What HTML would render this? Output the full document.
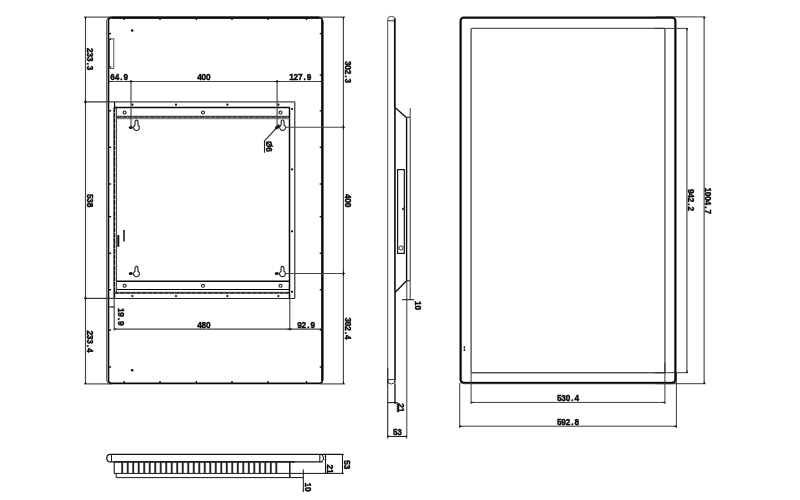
<!DOCTYPE html>
<html><head><meta charset="utf-8"><title>Dimension drawing</title>
<style>
html,body{margin:0;padding:0;background:#fff;}
body{width:800px;height:500px;overflow:hidden;}
svg{display:block;}
svg text{font-family:"Liberation Sans",sans-serif;font-weight:bold;fill:#050505;stroke:#050505;stroke-width:0.45px;}
</style></head>
<body>
<svg width="800" height="500" viewBox="0 0 800 500">
<rect x="0" y="0" width="800" height="500" fill="#fff"/>
<g id="drawing" style="filter:blur(0.45px)">
<path d="M111.5,384.0 Q106.7,384.0 106.7,379.9 V21.1 Q106.7,16.900000000000002 111.5,16.900000000000002 H319.3" fill="none" stroke="#4a4a4a" stroke-width="1.0" />
<path d="M323.40000000000003,20.6 V380.4" fill="none" stroke="#7a7a7a" stroke-width="0.9" />
<rect x="108.5" y="17.6" width="213.8" height="365.79999999999995" rx="2.8" fill="none" stroke="#080808" stroke-width="1.6"/>
<path d="M322.2,20.6 V380.4" fill="none" stroke="#080808" stroke-width="1.9" />
<path d="M111.5,17.700000000000003 H319.8" fill="none" stroke="#080808" stroke-width="2.0" />
<line x1="124.2" y1="17.6" x2="124.2" y2="20.0" stroke="#0a0a0a" stroke-width="1.35" />
<line x1="124.2" y1="381.0" x2="124.2" y2="383.4" stroke="#0a0a0a" stroke-width="1.35" />
<line x1="160" y1="17.6" x2="160" y2="20.0" stroke="#0a0a0a" stroke-width="1.35" />
<line x1="160" y1="381.0" x2="160" y2="383.4" stroke="#0a0a0a" stroke-width="1.35" />
<line x1="196.4" y1="17.6" x2="196.4" y2="20.0" stroke="#0a0a0a" stroke-width="1.35" />
<line x1="196.4" y1="381.0" x2="196.4" y2="383.4" stroke="#0a0a0a" stroke-width="1.35" />
<line x1="232" y1="17.6" x2="232" y2="20.0" stroke="#0a0a0a" stroke-width="1.35" />
<line x1="232" y1="381.0" x2="232" y2="383.4" stroke="#0a0a0a" stroke-width="1.35" />
<line x1="268" y1="17.6" x2="268" y2="20.0" stroke="#0a0a0a" stroke-width="1.35" />
<line x1="268" y1="381.0" x2="268" y2="383.4" stroke="#0a0a0a" stroke-width="1.35" />
<line x1="306.5" y1="17.6" x2="306.5" y2="20.0" stroke="#0a0a0a" stroke-width="1.35" />
<line x1="306.5" y1="381.0" x2="306.5" y2="383.4" stroke="#0a0a0a" stroke-width="1.35" />
<line x1="108.5" y1="33.6" x2="111.1" y2="33.6" stroke="#0a0a0a" stroke-width="1.35" />
<line x1="108.5" y1="39.3" x2="111.1" y2="39.3" stroke="#0a0a0a" stroke-width="1.35" />
<line x1="108.5" y1="67" x2="111.1" y2="67" stroke="#0a0a0a" stroke-width="1.35" />
<line x1="108.5" y1="110.8" x2="111.1" y2="110.8" stroke="#0a0a0a" stroke-width="1.35" />
<line x1="108.5" y1="147.3" x2="111.1" y2="147.3" stroke="#0a0a0a" stroke-width="1.35" />
<line x1="108.5" y1="184" x2="111.1" y2="184" stroke="#0a0a0a" stroke-width="1.35" />
<line x1="108.5" y1="216.6" x2="111.1" y2="216.6" stroke="#0a0a0a" stroke-width="1.35" />
<line x1="108.5" y1="253.3" x2="111.1" y2="253.3" stroke="#0a0a0a" stroke-width="1.35" />
<line x1="108.5" y1="289.7" x2="111.1" y2="289.7" stroke="#0a0a0a" stroke-width="1.35" />
<line x1="108.5" y1="330" x2="111.1" y2="330" stroke="#0a0a0a" stroke-width="1.35" />
<line x1="108.5" y1="367" x2="111.1" y2="367" stroke="#0a0a0a" stroke-width="1.35" />
<line x1="319.7" y1="33.6" x2="322.3" y2="33.6" stroke="#0a0a0a" stroke-width="1.35" />
<line x1="319.7" y1="75" x2="322.3" y2="75" stroke="#0a0a0a" stroke-width="1.35" />
<line x1="319.7" y1="110.8" x2="322.3" y2="110.8" stroke="#0a0a0a" stroke-width="1.35" />
<line x1="319.7" y1="147.3" x2="322.3" y2="147.3" stroke="#0a0a0a" stroke-width="1.35" />
<line x1="319.7" y1="184" x2="322.3" y2="184" stroke="#0a0a0a" stroke-width="1.35" />
<line x1="319.7" y1="216.6" x2="322.3" y2="216.6" stroke="#0a0a0a" stroke-width="1.35" />
<line x1="319.7" y1="253.3" x2="322.3" y2="253.3" stroke="#0a0a0a" stroke-width="1.35" />
<line x1="319.7" y1="289.7" x2="322.3" y2="289.7" stroke="#0a0a0a" stroke-width="1.35" />
<line x1="319.7" y1="330" x2="322.3" y2="330" stroke="#0a0a0a" stroke-width="1.35" />
<line x1="319.7" y1="367" x2="322.3" y2="367" stroke="#0a0a0a" stroke-width="1.35" />
<circle cx="132.2" cy="30.5" r="1.25" fill="#0a0a0a"/>
<circle cx="132.2" cy="370.2" r="1.25" fill="#0a0a0a"/>
<rect x="109.4" y="38.8" width="4.4" height="29.6" rx="0" fill="none" stroke="#4a4a4a" stroke-width="0.95"/>
<line x1="114.3" y1="101.9" x2="294.8" y2="101.9" stroke="#454545" stroke-width="1.1" />
<line x1="294.8" y1="101.9" x2="294.8" y2="298.5" stroke="#202020" stroke-width="1.1" />
<line x1="114.3" y1="298.5" x2="294.8" y2="298.5" stroke="#202020" stroke-width="1.15" />
<line x1="113.6" y1="107.4" x2="113.6" y2="298.5" stroke="#5a5a5a" stroke-width="0.9" />
<line x1="114.6" y1="101.9" x2="114.6" y2="298.5" stroke="#080808" stroke-width="1.2" stroke-dasharray="5 0.45"/>
<line x1="116.5" y1="107.4" x2="116.5" y2="292.4" stroke="#4a4a4a" stroke-width="1.1" />
<line x1="114.3" y1="107.4" x2="289.5" y2="107.4" stroke="#080808" stroke-width="1.5" />
<line x1="116.5" y1="281.2" x2="289.5" y2="281.2" stroke="#080808" stroke-width="1.45" />
<line x1="289.5" y1="107.4" x2="289.5" y2="298.5" stroke="#080808" stroke-width="1.5" />
<line x1="116.9" y1="116.3" x2="289.5" y2="116.3" stroke="#2a2a2a" stroke-width="1.0" />
<line x1="116.9" y1="117.3" x2="289.5" y2="117.3" stroke="#080808" stroke-width="1.0" stroke-dasharray="5 0.5"/>
<line x1="116.9" y1="118.5" x2="289.5" y2="118.5" stroke="#858585" stroke-width="1.5" />
<line x1="116.9" y1="289.5" x2="289.5" y2="289.5" stroke="#080808" stroke-width="1.15" />
<line x1="114.3" y1="292.3" x2="289.5" y2="292.3" stroke="#333" stroke-width="0.9" />
<line x1="114.3" y1="293.1" x2="289.5" y2="293.1" stroke="#080808" stroke-width="1.2" stroke-dasharray="5 0.5"/>
<circle cx="124.6" cy="112.5" r="1.5" fill="none" stroke="#202020" stroke-width="1.15"/>
<circle cx="124.6" cy="285.7" r="1.5" fill="none" stroke="#202020" stroke-width="1.15"/>
<circle cx="203" cy="112.5" r="1.5" fill="none" stroke="#202020" stroke-width="1.15"/>
<circle cx="203" cy="285.7" r="1.5" fill="none" stroke="#202020" stroke-width="1.15"/>
<circle cx="280.5" cy="112.5" r="1.5" fill="none" stroke="#202020" stroke-width="1.15"/>
<circle cx="280.5" cy="285.7" r="1.5" fill="none" stroke="#202020" stroke-width="1.15"/>
<circle cx="132.4" cy="104.7" r="1.1" fill="#0a0a0a"/>
<circle cx="132.4" cy="296.1" r="1.1" fill="#0a0a0a"/>
<circle cx="176" cy="104.7" r="1.1" fill="#0a0a0a"/>
<circle cx="176" cy="296.1" r="1.1" fill="#0a0a0a"/>
<circle cx="227.4" cy="104.7" r="1.1" fill="#0a0a0a"/>
<circle cx="227.4" cy="296.1" r="1.1" fill="#0a0a0a"/>
<circle cx="278.4" cy="104.7" r="1.1" fill="#0a0a0a"/>
<circle cx="278.4" cy="296.1" r="1.1" fill="#0a0a0a"/>
<circle cx="292.1" cy="109" r="1.1" fill="#0a0a0a"/>
<circle cx="292.1" cy="169.4" r="1.1" fill="#0a0a0a"/>
<circle cx="292.1" cy="231.3" r="1.1" fill="#0a0a0a"/>
<circle cx="292.1" cy="291.8" r="1.1" fill="#0a0a0a"/>
<line x1="118.3" y1="235" x2="118.3" y2="246.8" stroke="#111" stroke-width="2.0" />
<line x1="124" y1="230" x2="124" y2="241.5" stroke="#080808" stroke-width="1.45" />
<path d="M135.05,125.0 V121.6 A1.45,1.45 0 0 1 137.95,121.6 V125.0 A2.95,2.95 0 1 1 135.05,125.0 Z" fill="#fff" stroke="#202020" stroke-width="1.1" />
<ellipse cx="130.8" cy="127.4" rx="2.0" ry="1.5" fill="#080808"/>
<path d="M281.15000000000003,124.9 V121.5 A1.45,1.45 0 0 1 284.05,121.5 V124.9 A2.95,2.95 0 1 1 281.15000000000003,124.9 Z" fill="#fff" stroke="#202020" stroke-width="1.1" />
<ellipse cx="277.40000000000003" cy="127.0" rx="3.0" ry="1.6" fill="#080808" transform="rotate(-40 277.40000000000003 127.0)"/>
<path d="M135.05,271.2 V267.8 A1.45,1.45 0 0 1 137.95,267.8 V271.2 A2.95,2.95 0 1 1 135.05,271.2 Z" fill="#fff" stroke="#202020" stroke-width="1.1" />
<ellipse cx="130.8" cy="273.59999999999997" rx="2.0" ry="1.5" fill="#080808"/>
<path d="M281.05,271.2 V267.8 A1.45,1.45 0 0 1 283.95,267.8 V271.2 A2.95,2.95 0 1 1 281.05,271.2 Z" fill="#fff" stroke="#202020" stroke-width="1.1" />
<ellipse cx="276.8" cy="273.59999999999997" rx="2.0" ry="1.5" fill="#080808"/>
<line x1="85.5" y1="17.0" x2="85.5" y2="384.0" stroke="#454545" stroke-width="1.15" />
<line x1="84" y1="17.1" x2="110.5" y2="17.1" stroke="#454545" stroke-width="1.15" />
<line x1="84" y1="383.9" x2="110.5" y2="383.9" stroke="#454545" stroke-width="1.15" />
<line x1="84" y1="101.9" x2="114.3" y2="101.9" stroke="#363636" stroke-width="1.25" />
<line x1="84" y1="298.4" x2="114.3" y2="298.4" stroke="#363636" stroke-width="1.25" />
<path d="M84.55,17.1 L85.5,20.0 L86.45,17.1 z" fill="#111" stroke="#151515" stroke-width="0" />
<path d="M84.55,102 L85.5,99.1 L86.45,102 z" fill="#111" stroke="#151515" stroke-width="0" />
<path d="M84.55,102 L85.5,104.9 L86.45,102 z" fill="#111" stroke="#151515" stroke-width="0" />
<path d="M84.55,298.3 L85.5,295.40000000000003 L86.45,298.3 z" fill="#111" stroke="#151515" stroke-width="0" />
<path d="M84.55,298.3 L85.5,301.2 L86.45,298.3 z" fill="#111" stroke="#151515" stroke-width="0" />
<path d="M84.55,383.9 L85.5,381.0 L86.45,383.9 z" fill="#111" stroke="#151515" stroke-width="0" />
<g transform="translate(86.6,48.2) rotate(90) scale(0.84,1)"><text x="2.62 7.86 13.10 18.33 23.57" y="0" text-anchor="middle" font-size="9.8">233.3</text></g>
<g transform="translate(86.6,194) rotate(90) scale(0.84,1)"><text x="2.62 7.86 13.10" y="0" text-anchor="middle" font-size="9.8">538</text></g>
<g transform="translate(86.6,330.5) rotate(90) scale(0.84,1)"><text x="2.62 7.86 13.10 18.33 23.57" y="0" text-anchor="middle" font-size="9.8">233.4</text></g>
<line x1="343.4" y1="17.0" x2="343.4" y2="384.0" stroke="#454545" stroke-width="1.15" />
<line x1="320.3" y1="17.1" x2="345" y2="17.1" stroke="#454545" stroke-width="1.15" />
<line x1="320.3" y1="383.9" x2="345" y2="383.9" stroke="#454545" stroke-width="1.15" />
<line x1="285.5" y1="127.2" x2="345" y2="127.2" stroke="#454545" stroke-width="1.15" />
<line x1="285.5" y1="273.5" x2="345" y2="273.5" stroke="#454545" stroke-width="1.15" />
<path d="M342.45,17.1 L343.4,20.0 L344.34999999999997,17.1 z" fill="#111" stroke="#151515" stroke-width="0" />
<path d="M342.45,127.2 L343.4,124.3 L344.34999999999997,127.2 z" fill="#111" stroke="#151515" stroke-width="0" />
<path d="M342.45,127.2 L343.4,130.1 L344.34999999999997,127.2 z" fill="#111" stroke="#151515" stroke-width="0" />
<path d="M342.45,273.5 L343.4,270.6 L344.34999999999997,273.5 z" fill="#111" stroke="#151515" stroke-width="0" />
<path d="M342.45,273.5 L343.4,276.4 L344.34999999999997,273.5 z" fill="#111" stroke="#151515" stroke-width="0" />
<path d="M342.45,383.9 L343.4,381.0 L344.34999999999997,383.9 z" fill="#111" stroke="#151515" stroke-width="0" />
<g transform="translate(344.6,61) rotate(90) scale(0.84,1)"><text x="2.62 7.86 13.10 18.33 23.57" y="0" text-anchor="middle" font-size="9.8">302.3</text></g>
<g transform="translate(344.6,194) rotate(90) scale(0.84,1)"><text x="2.62 7.86 13.10" y="0" text-anchor="middle" font-size="9.8">400</text></g>
<g transform="translate(344.6,317.5) rotate(90) scale(0.84,1)"><text x="2.62 7.86 13.10 18.33 23.57" y="0" text-anchor="middle" font-size="9.8">302.4</text></g>
<line x1="108.5" y1="81.45" x2="322.3" y2="81.45" stroke="#454545" stroke-width="1.15" />
<line x1="131" y1="80" x2="131" y2="127.5" stroke="#454545" stroke-width="1.15" />
<line x1="277.1" y1="80" x2="277.1" y2="127.5" stroke="#454545" stroke-width="1.15" />
<path d="M108.5,80.5 L111.4,81.45 L108.5,82.4 z" fill="#111" stroke="#151515" stroke-width="0" />
<path d="M131,80.5 L128.1,81.45 L131,82.4 z" fill="#111" stroke="#151515" stroke-width="0" />
<path d="M131,80.5 L133.9,81.45 L131,82.4 z" fill="#111" stroke="#151515" stroke-width="0" />
<path d="M277.1,80.5 L274.20000000000005,81.45 L277.1,82.4 z" fill="#111" stroke="#151515" stroke-width="0" />
<path d="M277.1,80.5 L280.0,81.45 L277.1,82.4 z" fill="#111" stroke="#151515" stroke-width="0" />
<path d="M322.3,80.5 L319.40000000000003,81.45 L322.3,82.4 z" fill="#111" stroke="#151515" stroke-width="0" />
<g transform="translate(110.4,80.2) rotate(0) scale(0.84,1)"><text x="2.62 7.86 13.10 18.33" y="0" text-anchor="middle" font-size="9.8">64.9</text></g>
<g transform="translate(197.3,80.2) rotate(0) scale(0.84,1)"><text x="2.62 7.86 13.10" y="0" text-anchor="middle" font-size="9.8">400</text></g>
<g transform="translate(289.3,80.2) rotate(0) scale(0.84,1)"><text x="2.62 7.86 13.10 18.33 23.57" y="0" text-anchor="middle" font-size="9.8">127.9</text></g>
<line x1="114.2" y1="329.1" x2="322.3" y2="329.1" stroke="#454545" stroke-width="1.15" />
<line x1="114.2" y1="298.5" x2="114.2" y2="330.5" stroke="#454545" stroke-width="1.15" />
<line x1="107.5" y1="307" x2="114.6" y2="307" stroke="#222" stroke-width="1.2" />
<line x1="289.8" y1="298.5" x2="289.8" y2="330.5" stroke="#454545" stroke-width="1.15" />
<path d="M114.2,328.15000000000003 L117.10000000000001,329.1 L114.2,330.05 z" fill="#111" stroke="#151515" stroke-width="0" />
<path d="M289.8,328.15000000000003 L286.90000000000003,329.1 L289.8,330.05 z" fill="#111" stroke="#151515" stroke-width="0" />
<path d="M289.8,328.15000000000003 L292.7,329.1 L289.8,330.05 z" fill="#111" stroke="#151515" stroke-width="0" />
<path d="M322.3,328.15000000000003 L319.40000000000003,329.1 L322.3,330.05 z" fill="#111" stroke="#151515" stroke-width="0" />
<g transform="translate(118.2,308) rotate(90) scale(0.84,1)"><text x="2.62 7.86 13.10 18.33" y="0" text-anchor="middle" font-size="9.8">19.9</text></g>
<g transform="translate(197.3,327.9) rotate(0) scale(0.84,1)"><text x="2.62 7.86 13.10" y="0" text-anchor="middle" font-size="9.8">480</text></g>
<g transform="translate(297.3,327.9) rotate(0) scale(0.84,1)"><text x="2.62 7.86 13.10 18.33" y="0" text-anchor="middle" font-size="9.8">92.9</text></g>
<path d="M276.5,127.8 L264.5,141 V152.8" fill="none" stroke="#202020" stroke-width="1.1" />
<g transform="translate(265.7,141.6) rotate(90) scale(0.84,1)"><text x="3.15 9.46" y="0" text-anchor="middle" font-size="9.8">Ø6</text></g>
<path d="M387.7,384 V19 Q387.7,16.4 391.3,16.4 Q395.0,16.4 395.0,19" fill="none" stroke="#505050" stroke-width="1.0" />
<line x1="387.7" y1="20.8" x2="395.0" y2="20.8" stroke="#2a2a2a" stroke-width="0.95" />
<line x1="395.0" y1="18.5" x2="395.0" y2="404" stroke="#333" stroke-width="0.95" />
<line x1="394.7" y1="18.5" x2="394.7" y2="107.5" stroke="#0a0a0a" stroke-width="1.55" />
<line x1="394.9" y1="107.5" x2="394.9" y2="292.5" stroke="#0a0a0a" stroke-width="1.35" />
<path d="M395.0,107.5 L406.4,117.5" fill="none" stroke="#0a0a0a" stroke-width="1.3" />
<line x1="406.6" y1="117.5" x2="406.6" y2="281" stroke="#0a0a0a" stroke-width="1.35" />
<line x1="406.4" y1="117.3" x2="410.2" y2="117.3" stroke="#1c1c1c" stroke-width="1.05" />
<line x1="410.2" y1="108" x2="410.2" y2="299.8" stroke="#333" stroke-width="0.95" />
<line x1="406.4" y1="280.8" x2="410.2" y2="280.8" stroke="#1c1c1c" stroke-width="1.05" />
<path d="M406.4,281 L395.0,292.5" fill="none" stroke="#0a0a0a" stroke-width="1.3" />
<line x1="395.0" y1="292.5" x2="395.0" y2="380" stroke="#111" stroke-width="1.3" />
<rect x="397.6" y="169.6" width="6.7" height="83.8" rx="0" fill="none" stroke="#0d0d0d" stroke-width="1.15"/>
<circle cx="401" cy="248" r="2.1" fill="none" stroke="#151515" stroke-width="0.9"/>
<path d="M404.6,207.6 l-2.6,1.4 l2.6,1.4" fill="none" stroke="#151515" stroke-width="0.95" />
<line x1="387.7" y1="379.6" x2="395.0" y2="379.6" stroke="#2a2a2a" stroke-width="0.95" />
<path d="M387.7,380 Q387.7,384 391.3,384 Q395.0,384 395.0,380" fill="none" stroke="#2a2a2a" stroke-width="0.95" />
<line x1="387.7" y1="368" x2="387.7" y2="438.5" stroke="#2a2a2a" stroke-width="1.1" />
<line x1="395.0" y1="384" x2="395.0" y2="404" stroke="#2a2a2a" stroke-width="1.05" />
<line x1="406.8" y1="281" x2="406.8" y2="438.5" stroke="#333" stroke-width="0.95" />
<line x1="402" y1="299.7" x2="414.2" y2="299.7" stroke="#151515" stroke-width="1.05" />
<g transform="translate(415.4,301.2) rotate(90) scale(0.84,1)"><text x="2.62 7.86" y="0" text-anchor="middle" font-size="9.8">10</text></g>
<line x1="387.7" y1="402.6" x2="397.3" y2="402.6" stroke="#151515" stroke-width="1.05" />
<line x1="397.3" y1="402.6" x2="397.3" y2="412" stroke="#151515" stroke-width="1.05" />
<g transform="translate(398.3,403.4) rotate(90) scale(0.84,1)"><text x="2.62 7.86" y="0" text-anchor="middle" font-size="9.8">21</text></g>
<line x1="387.7" y1="436.4" x2="406.8" y2="436.4" stroke="#151515" stroke-width="1.05" />
<path d="M387.7,435.45 L390.59999999999997,436.4 L387.7,437.34999999999997 z" fill="#111" stroke="#151515" stroke-width="0" />
<path d="M406.8,435.45 L403.90000000000003,436.4 L406.8,437.34999999999997 z" fill="#111" stroke="#151515" stroke-width="0" />
<g transform="translate(393,435.3) rotate(0) scale(0.84,1)"><text x="2.62 7.86" y="0" text-anchor="middle" font-size="9.8">53</text></g>
<rect x="471.1" y="28.4" width="193.79999999999995" height="344.3" rx="0.8" fill="none" stroke="#555" stroke-width="1.4"/>
<rect x="460.5" y="17.6" width="214.99999999999994" height="365.4" rx="3.4" fill="none" stroke="#6a6a6a" stroke-width="2.5"/>
<rect x="460.70000000000005" y="17.8" width="214.59999999999997" height="364.9" rx="3.1" fill="none" stroke="#060606" stroke-width="1.5"/>
<circle cx="464.4" cy="347.2" r="0.85" fill="#0a0a0a"/>
<circle cx="464.4" cy="350.2" r="0.85" fill="#0a0a0a"/>
<line x1="464.4" y1="347.2" x2="464.4" y2="350.2" stroke="#222" stroke-width="0.6" />
<line x1="655.4" y1="16.9" x2="705.8" y2="16.9" stroke="#2e2e2e" stroke-width="0.95" />
<line x1="655.4" y1="383.7" x2="705.8" y2="383.7" stroke="#2e2e2e" stroke-width="0.95" />
<line x1="704.15" y1="16.9" x2="704.15" y2="383.7" stroke="#505050" stroke-width="1.2" />
<line x1="654.9" y1="28.4" x2="688" y2="28.4" stroke="#2e2e2e" stroke-width="0.95" />
<line x1="654.9" y1="372.7" x2="688" y2="372.7" stroke="#2e2e2e" stroke-width="0.95" />
<line x1="686.9" y1="28.4" x2="686.9" y2="372.7" stroke="#505050" stroke-width="1.2" />
<path d="M703.1999999999999,16.9 L704.15,19.799999999999997 L705.1,16.9 z" fill="#111" stroke="#151515" stroke-width="0" />
<path d="M703.1999999999999,383.7 L704.15,380.8 L705.1,383.7 z" fill="#111" stroke="#151515" stroke-width="0" />
<path d="M686.05,28.4 L687,31.299999999999997 L687.95,28.4 z" fill="#111" stroke="#151515" stroke-width="0" />
<path d="M686.05,372.7 L687,369.8 L687.95,372.7 z" fill="#111" stroke="#151515" stroke-width="0" />
<g transform="translate(688.2,189) rotate(90) scale(0.84,1)"><text x="2.62 7.86 13.10 18.33 23.57" y="0" text-anchor="middle" font-size="9.8">942.2</text></g>
<g transform="translate(705.4,187.5) rotate(90) scale(0.84,1)"><text x="2.62 7.86 13.10 18.33 23.57 28.81" y="0" text-anchor="middle" font-size="9.8">1004.7</text></g>
<line x1="471.1" y1="372.7" x2="471.1" y2="404" stroke="#333" stroke-width="0.95" />
<line x1="664.9" y1="362.7" x2="664.9" y2="404" stroke="#333" stroke-width="0.95" />
<line x1="459.70000000000005" y1="382.9" x2="459.70000000000005" y2="428" stroke="#333" stroke-width="0.95" />
<line x1="676.4" y1="372.9" x2="676.4" y2="428" stroke="#333" stroke-width="0.95" />
<line x1="471.1" y1="402.4" x2="664.9" y2="402.4" stroke="#2e2e2e" stroke-width="0.95" />
<line x1="459.70000000000005" y1="426.2" x2="676.4" y2="426.2" stroke="#2e2e2e" stroke-width="0.95" />
<path d="M471.1,401.45 L474.0,402.4 L471.1,403.34999999999997 z" fill="#111" stroke="#151515" stroke-width="0" />
<path d="M664.9,401.45 L662.0,402.4 L664.9,403.34999999999997 z" fill="#111" stroke="#151515" stroke-width="0" />
<path d="M459.70000000000005,425.25 L462.6,426.2 L459.70000000000005,427.15 z" fill="#111" stroke="#151515" stroke-width="0" />
<path d="M676.4,425.25 L673.5,426.2 L676.4,427.15 z" fill="#111" stroke="#151515" stroke-width="0" />
<g transform="translate(557,401.1) rotate(0) scale(0.84,1)"><text x="2.62 7.86 13.10 18.33 23.57" y="0" text-anchor="middle" font-size="9.8">530.4</text></g>
<g transform="translate(557,424.9) rotate(0) scale(0.84,1)"><text x="2.62 7.86 13.10 18.33 23.57" y="0" text-anchor="middle" font-size="9.8">592.8</text></g>
<path d="M343.7,454.4 H110.5 Q106.8,454.4 106.8,458.15 Q106.8,461.9 110.5,461.9 H322.5" fill="none" stroke="#151515" stroke-width="1.25" />
<line x1="111.5" y1="454.4" x2="111.5" y2="461.9" stroke="#1c1c1c" stroke-width="1.05" />
<line x1="319.8" y1="454.4" x2="319.8" y2="461.9" stroke="#1c1c1c" stroke-width="1.05" />
<path d="M321.5,454.4 Q325.6,458.15 321.5,461.9" fill="none" stroke="#1c1c1c" stroke-width="1.05" />
<line x1="114.2" y1="461.9" x2="114.2" y2="473.4" stroke="#151515" stroke-width="1.1" />
<line x1="114.2" y1="473.4" x2="343.7" y2="473.4" stroke="#151515" stroke-width="1.0" />
<line x1="289.8" y1="461.9" x2="289.8" y2="477.6" stroke="#080808" stroke-width="1.4" />
<line x1="114.2" y1="461.9" x2="295" y2="461.9" stroke="#111" stroke-width="1.2" />
<line x1="122.2" y1="461.9" x2="122.2" y2="473.4" stroke="#262626" stroke-width="1.9" />
<line x1="127.70400000000001" y1="461.9" x2="127.70400000000001" y2="473.4" stroke="#262626" stroke-width="1.9" />
<line x1="133.208" y1="461.9" x2="133.208" y2="473.4" stroke="#262626" stroke-width="1.9" />
<line x1="138.712" y1="461.9" x2="138.712" y2="473.4" stroke="#262626" stroke-width="1.9" />
<line x1="144.216" y1="461.9" x2="144.216" y2="473.4" stroke="#262626" stroke-width="1.9" />
<line x1="149.72" y1="461.9" x2="149.72" y2="473.4" stroke="#262626" stroke-width="1.9" />
<line x1="155.224" y1="461.9" x2="155.224" y2="473.4" stroke="#262626" stroke-width="1.9" />
<line x1="160.728" y1="461.9" x2="160.728" y2="473.4" stroke="#262626" stroke-width="1.9" />
<line x1="166.232" y1="461.9" x2="166.232" y2="473.4" stroke="#262626" stroke-width="1.9" />
<line x1="171.736" y1="461.9" x2="171.736" y2="473.4" stroke="#262626" stroke-width="1.9" />
<line x1="177.24" y1="461.9" x2="177.24" y2="473.4" stroke="#262626" stroke-width="1.9" />
<line x1="182.744" y1="461.9" x2="182.744" y2="473.4" stroke="#262626" stroke-width="1.9" />
<line x1="188.248" y1="461.9" x2="188.248" y2="473.4" stroke="#262626" stroke-width="1.9" />
<line x1="193.752" y1="461.9" x2="193.752" y2="473.4" stroke="#262626" stroke-width="1.9" />
<line x1="199.256" y1="461.9" x2="199.256" y2="473.4" stroke="#262626" stroke-width="1.9" />
<line x1="204.76" y1="461.9" x2="204.76" y2="473.4" stroke="#262626" stroke-width="1.9" />
<line x1="210.264" y1="461.9" x2="210.264" y2="473.4" stroke="#262626" stroke-width="1.9" />
<line x1="215.768" y1="461.9" x2="215.768" y2="473.4" stroke="#262626" stroke-width="1.9" />
<line x1="221.272" y1="461.9" x2="221.272" y2="473.4" stroke="#262626" stroke-width="1.9" />
<line x1="226.776" y1="461.9" x2="226.776" y2="473.4" stroke="#262626" stroke-width="1.9" />
<line x1="232.27999999999997" y1="461.9" x2="232.27999999999997" y2="473.4" stroke="#262626" stroke-width="1.9" />
<line x1="237.784" y1="461.9" x2="237.784" y2="473.4" stroke="#262626" stroke-width="1.9" />
<line x1="243.288" y1="461.9" x2="243.288" y2="473.4" stroke="#262626" stroke-width="1.9" />
<line x1="248.79199999999997" y1="461.9" x2="248.79199999999997" y2="473.4" stroke="#262626" stroke-width="1.9" />
<line x1="254.296" y1="461.9" x2="254.296" y2="473.4" stroke="#262626" stroke-width="1.9" />
<line x1="259.8" y1="461.9" x2="259.8" y2="473.4" stroke="#262626" stroke-width="1.9" />
<line x1="265.304" y1="461.9" x2="265.304" y2="473.4" stroke="#262626" stroke-width="1.9" />
<line x1="270.808" y1="461.9" x2="270.808" y2="473.4" stroke="#262626" stroke-width="1.9" />
<line x1="276.312" y1="461.9" x2="276.312" y2="473.4" stroke="#262626" stroke-width="1.9" />
<path d="M116.2,473.4 V477.6 H303.6" fill="none" stroke="#151515" stroke-width="1.0" />
<line x1="303.3" y1="469.5" x2="303.3" y2="492" stroke="#151515" stroke-width="1.05" />
<g transform="translate(304.6,482.6) rotate(90) scale(0.84,1)"><text x="2.62 7.86" y="0" text-anchor="middle" font-size="9.8">10</text></g>
<line x1="325.5" y1="454.4" x2="325.5" y2="473.4" stroke="#151515" stroke-width="1.05" />
<path d="M324.55,457.29999999999995 L325.5,454.4 L326.45,457.29999999999995 z" fill="#111" stroke="#151515" stroke-width="0" />
<path d="M324.55,459.0 L325.5,461.9 L326.45,459.0 z" fill="#111" stroke="#151515" stroke-width="0" />
<path d="M324.55,473.4 L325.5,470.5 L326.45,473.4 z" fill="#111" stroke="#151515" stroke-width="0" />
<g transform="translate(327.2,464.6) rotate(90) scale(0.84,1)"><text x="2.62 7.86" y="0" text-anchor="middle" font-size="9.8">21</text></g>
<line x1="342.5" y1="454.4" x2="342.5" y2="473.4" stroke="#151515" stroke-width="1.05" />
<path d="M341.55,454.4 L342.5,457.29999999999995 L343.45,454.4 z" fill="#111" stroke="#151515" stroke-width="0" />
<path d="M341.55,473.4 L342.5,470.5 L343.45,473.4 z" fill="#111" stroke="#151515" stroke-width="0" />
<g transform="translate(343.6,460.4) rotate(90) scale(0.84,1)"><text x="2.62 7.86" y="0" text-anchor="middle" font-size="9.8">53</text></g>
</g>
</svg>
</body></html>
